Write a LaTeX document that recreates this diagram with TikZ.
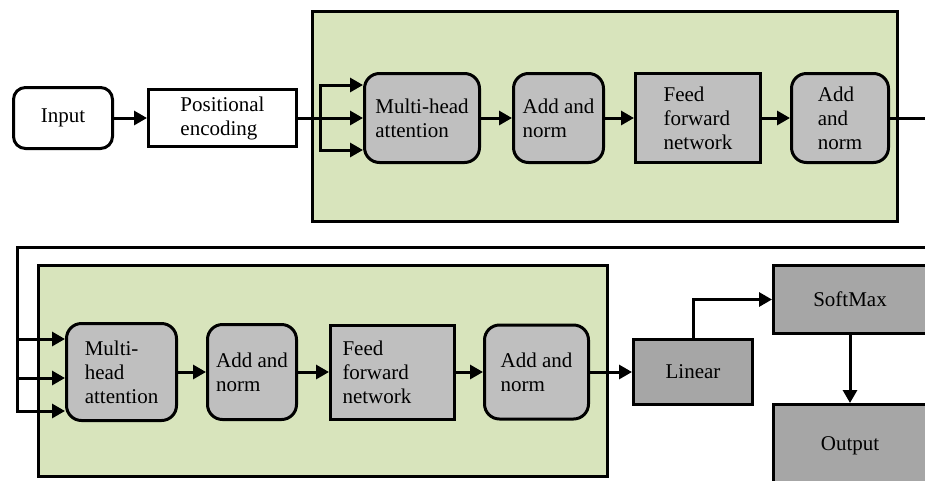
\documentclass[tikz,border=0pt]{standalone}
\usepackage{fontspec}
\setmainfont{Liberation Serif}
\usepackage{tikz}
\usetikzlibrary{positioning,arrows.meta}
\definecolor{stagegreen}{RGB}{216,228,188}
\definecolor{boxgray}{RGB}{191,191,191}
\definecolor{outgray}{RGB}{166,166,166}
\newcommand{\diagfont}{\fontsize{21}{24}\selectfont}

\begin{document}
\begin{tikzpicture}[x=1pt, y=-1pt, line width=3pt, >={Triangle[length=13pt,width=14pt]},
    every node/.style={font=\diagfont},
    layer/.style={rectangle,draw,fill=stagegreen},
    rbox/.style={rectangle,draw,rounded corners=15pt,fill=boxgray,align=left},
    sbox/.style={rectangle,draw,fill=boxgray,align=left},
    obox/.style={rectangle,draw,fill=outgray}]
  \useasboundingbox (0,0) rectangle (925,480);

  \node[layer, minimum width=585pt, minimum height=210pt] (enc1) at (605,116.5) {};
  \node[layer, minimum width=569pt, minimum height=211pt] (enc2) at (323,371) {};

  \node[rbox, fill=white, rounded corners=12pt, minimum width=99pt, minimum height=61pt] (in) at (63,118) {Input};
  \node[sbox, fill=white, minimum width=148pt, minimum height=57pt] (pe) [right=33pt of in] {Positional\\encoding};
  \node[rbox, minimum width=115pt, minimum height=89pt] (mha1) [right=65pt of pe] {Multi-head\\attention};
  \node[rbox, minimum width=90pt, minimum height=89pt] (an1) [right=31pt of mha1] {Add and\\norm};
  \node[sbox, minimum width=125pt, minimum height=89pt] (ff1) [right=29pt of an1] {Feed\\forward\\network};
  \node[rbox, minimum width=97pt, minimum height=89pt] (an2) [right=28pt of ff1] {Add\\and\\norm};

  \node[rbox, minimum width=110pt, minimum height=97pt] (mha2) at (121.5,372) {Multi-\\head\\attention};
  \node[rbox, minimum width=89pt, minimum height=95pt] (an3) [right=28pt of mha2] {Add and\\norm};
  \node[sbox, minimum width=124pt, minimum height=94pt, text width=100pt, inner xsep=12pt] (ff2) [right=31pt of an3] {Feed\\forward\\network};
  \node[rbox, minimum width=104pt, minimum height=94pt] (an4) [right=27pt of ff2] {Add and\\norm};
  \node[obox, minimum width=119pt, minimum height=65pt] (lin) [right=42pt of an4] {Linear};
  \node[obox, minimum width=153pt, minimum height=68pt] (sm) at (850,299.5) {SoftMax};
  \node[obox, minimum width=153pt, minimum height=82pt] (out) [below=68pt of sm] {Output};

  \coordinate[right=22pt of pe] (br);
  \coordinate (t1) at ([yshift=33pt]mha1.west);
  \coordinate (t3) at ([yshift=-32pt]mha1.west);
  \coordinate (turn) at (940,247);
  \coordinate (wrap) at (17,247);
  \coordinate (b1) at ([yshift=33pt]mha2.west);
  \coordinate (b2) at ([yshift=-6pt]mha2.west);
  \coordinate (b3) at ([yshift=-39pt]mha2.west);

  \draw[->] (in) -- (pe);
  \draw[->] (pe) -- (mha1);
  \draw[->] (br) |- (t1);
  \draw[->] (br) |- (t3);
  \draw[->] (mha1) -- (an1);
  \draw[->] (an1) -- (ff1);
  \draw[->] (ff1) -- (an2);

  \draw[->] (an2.east) -| (turn) -- (wrap) |- (b3);
  \draw[->] (wrap |- b1) -- (b1);
  \draw[->] (wrap |- b2) -- (b2);

  \draw[->] (mha2) -- (an3);
  \draw[->] (an3) -- (ff2);
  \draw[->] (ff2) -- (an4);
  \draw[->] (an4) -- (lin);
  \draw[->] (lin.north) |- (sm.west);
  \draw[->] (sm) -- (out);
\end{tikzpicture}
\end{document}
